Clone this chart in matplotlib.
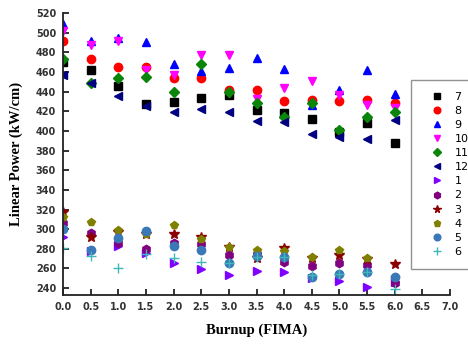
import matplotlib
matplotlib.use('Agg')
import matplotlib.pyplot as plt

burnup = [0.0, 0.5, 1.0, 1.5, 2.0, 2.5, 3.0, 3.5, 4.0, 4.5, 5.0, 5.5, 6.0]

# linear power (kW/cm) per series
p7 = [470, 462, 446, 427, 429, 433, 437, 421, 418, 412, 399, 408, 388]
p8 = [492, 473, 465, 465, 454, 454, 442, 442, 430, 431, 430, 431, 428]
p9 = [509, 491, 495, 490, 468, 461, 464, 474, 463, 426, 442, 462, 438]
p10 = [502, 487, 491, 462, 457, 477, 477, 432, 444, 451, 437, 426, 423]
p11 = [473, 449, 454, 455, 440, 468, 440, 428, 414, 428, 401, 414, 419]
p12 = [457, 449, 436, 425, 419, 422, 419, 410, 409, 397, 394, 392, 411]
p1 = [292, 278, 283, 276, 266, 259, 253, 257, 256, 250, 247, 241, 246]
p2 = [306, 296, 286, 280, 286, 285, 274, 275, 267, 263, 266, 264, 245]
p3 = [317, 292, 297, 295, 295, 292, 282, 271, 281, 271, 274, 270, 265]
p4 = [312, 307, 299, 295, 304, 290, 282, 279, 278, 272, 279, 271, 251]
p5 = [300, 279, 291, 298, 283, 279, 266, 273, 272, 251, 254, 256, 251]
p6 = [281, 273, 260, 275, 271, 267, 266, 272, 272, 253, 254, 256, 239]

series = [
    ('7', p7, 's', 'black'),
    ('8', p8, 'o', 'red'),
    ('9', p9, '^', 'blue'),
    ('10', p10, 'v', 'magenta'),
    ('11', p11, 'D', '#0a850a'),
    ('12', p12, '<', '#000080'),
    ('1', p1, '>', '#8000ff'),
    ('2', p2, 'h', '#800080'),
    ('3', p3, '*', '#8b0000'),
    ('4', p4, 'p', '#808000'),
    ('5', p5, 'o', '#3a78b8'),
    ('6', p6, '+', '#40b8b8'),
]

fig = plt.figure(figsize=(4.68, 3.44), dpi=100)
ax = fig.add_axes([63/468, 1 - 295/344, (450 - 63)/468, (295 - 13)/344])

for name, vals, mk, col in series:
    size = 7 if mk in ('*', '+') else 6
    if mk == 'D':
        size = 5
    ax.plot(burnup, vals, linestyle='none', marker=mk, color=col,
            markersize=size, label=name)

ax.set_xlim(0, 7)
ax.set_ylim(233, 520)
ax.set_xticks([i * 0.5 for i in range(15)])
ax.set_xticklabels(['%.1f' % (i * 0.5) for i in range(15)])
ax.set_yticks(range(240, 521, 20))

for side in ('top', 'right'):
    ax.spines[side].set_visible(False)
for side in ('left', 'bottom'):
    ax.spines[side].set_linewidth(1.3)
    ax.spines[side].set_color('#222222')

ax.tick_params(direction='in', length=4, width=1.3, color='#222222',
               labelsize=7, labelcolor='#333333', pad=5)
for lab in ax.get_xticklabels() + ax.get_yticklabels():
    lab.set_fontweight('bold')

ax.set_xlabel('Burnup (FIMA)', family='Liberation Serif', fontweight='bold',
              fontsize=10.5, labelpad=8)
ax.set_ylabel('Linear Power (kW/cm)', family='Liberation Serif',
              fontweight='bold', fontsize=10.5, labelpad=9)

leg = fig.legend(loc='upper left', bbox_to_anchor=(411/468, 1 - 80/344),
                 borderaxespad=0, frameon=True, fancybox=False,
                 edgecolor='#777777', fontsize=8, handletextpad=0.35,
                 labelspacing=0.37, borderpad=1.05, handlelength=2.5,
                 markerscale=0.8)
leg.get_frame().set_linewidth(1.0)

plt.savefig('out.png', dpi=100)
